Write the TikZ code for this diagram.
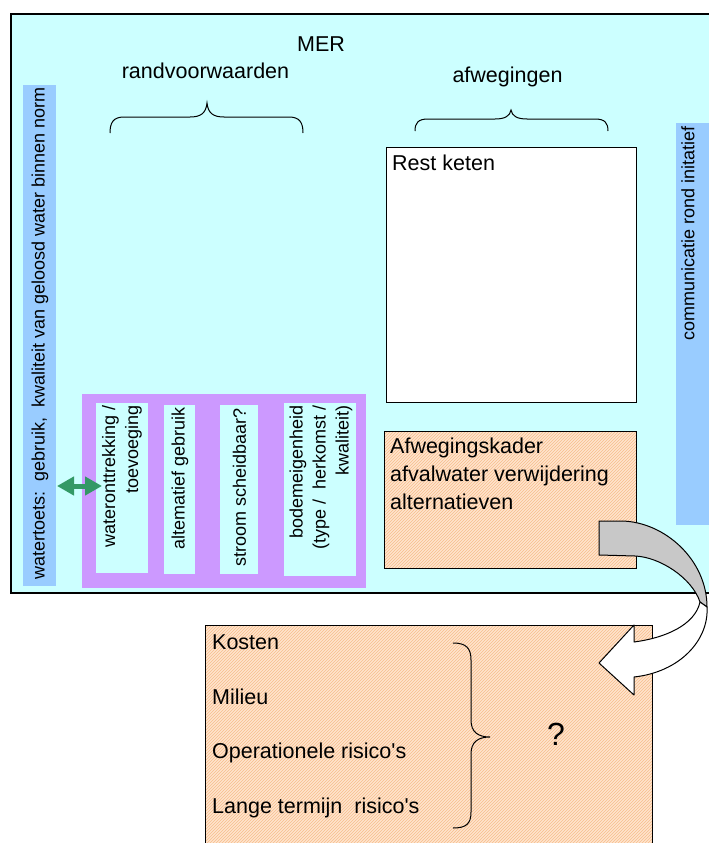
\documentclass[tikz,border=0pt]{standalone}
\usepackage{fontspec}
\setmainfont{Liberation Sans}
\usetikzlibrary{patterns,arrows.meta}
\definecolor{bgcyan}{HTML}{CCFFFF}
\definecolor{barblue}{HTML}{99CCFF}
\definecolor{lilac}{HTML}{CC99FF}
\definecolor{peach}{RGB}{255,228,205}
\definecolor{peachline}{RGB}{246,190,140}
\definecolor{arrowgreen}{HTML}{339966}
\definecolor{arrowgray}{HTML}{C8C8C8}
\tikzset{
  box/.style={rectangle, inner sep=0pt, outer sep=0pt, anchor=north west},
  hatch/.style={preaction={fill=peach}, pattern=north east lines, pattern color=peachline, draw=black, line width=1pt},
  txt/.style={inner sep=0pt, font=\fontsize{21.5}{28}\selectfont},
  vtxt/.style={rotate=90, anchor=east, inner sep=0pt, font=\fontsize{18}{23}\selectfont},
  bracepath/.style={draw=black, line width=1pt},
}
\begin{document}
\begin{tikzpicture}[x=1pt,y=-1pt]
\useasboundingbox (0,0) rectangle (709,843);
\clip (0,0) rectangle (709,843);
% outer MER frame
\node[box, draw=black, line width=1.2pt, fill=bgcyan, minimum width=740pt, minimum height=579pt] (mer) at (11,14) {};
% side bars
\node[box, fill=barblue, minimum width=33pt, minimum height=501pt] (toets) at (23,85) {};
\node[box, fill=barblue, minimum width=45pt, minimum height=402pt] (comm) at (676,123) {};
\node[vtxt] (toetstxt) at (40,87) {watertoets:\ \ gebruik,\ \ kwaliteit van geloosd water binnen norm};
\node[vtxt] (commtxt) at (688,126) {communicatie rond initatief};
% titles
\node[txt, anchor=base] (mertitle) at (321,52) {MER};
\node[txt, anchor=base] (randtitle) at (205.5,78) {randvoorwaarden};
\node[txt, anchor=base] (afwtitle) at (507.5,82) {afwegingen};
% braces
\draw[bracepath] (110,133) .. controls (110,123) and (113,117) .. (124,117) -- (190,117)
  .. controls (201,117) and (206,113) .. (207,103) .. controls (208,113) and (213,117) .. (224,117)
  -- (289,117) .. controls (300,117) and (303,123) .. (303,133);
\draw[bracepath] (415,131) .. controls (415,123) and (418,119) .. (428,119) -- (495,119)
  .. controls (505,119) and (510,116) .. (511,110) .. controls (512,116) and (517,119) .. (527,119)
  -- (595,119) .. controls (605,119) and (608,123) .. (608,131);
% Rest keten
\node[box, draw=black, line width=1pt, fill=white, minimum width=250pt, minimum height=255pt] (rest) at (386,147) {};
\node[txt, anchor=base west] (resttxt) at (392,170) {Rest keten};
% Afwegingskader
\node[box, hatch, minimum width=252pt, minimum height=137pt] (kader) at (384,431) {};
\node[txt, anchor=north west, align=left] (kadertxt) at (390,437.5) {Afwegingskader\\afvalwater verwijdering\\alternatieven};
% purple group
\node[box, fill=lilac, minimum width=284pt, minimum height=194pt] (group) at (82,394) {};
\node[box, fill=bgcyan, minimum width=52pt, minimum height=170pt] (b1) at (96,403) {};
\node[box, fill=bgcyan, minimum width=31pt, minimum height=169pt] (b2) at (164,405) {};
\node[box, fill=bgcyan, minimum width=38pt, minimum height=169pt] (b3) at (220,405) {};
\node[box, fill=bgcyan, minimum width=72pt, minimum height=173pt] (b4) at (284,403) {};
\node[vtxt, align=right] (t1) at (122,405) {wateronttrekking /\\toevoeging};
\node[vtxt] (t2) at (180,407) {altematief gebruik};
\node[vtxt] (t3) at (239.5,408) {stroom scheidbaar?};
\node[vtxt, align=right] (t4) at (321,405) {bodemeigenheid\\(type /\ \ herkomst /\\kwaliteit)};
% green double arrow
\coordinate (ga) at (57,486);
\coordinate (gb) at (102,486);
\draw[arrowgreen, line width=5pt, {Triangle[width=18pt,length=17pt]}-{Triangle[width=18pt,length=17pt]}] (ga) -- (gb);
% bottom box
\node[box, hatch, minimum width=447pt, minimum height=240pt] (eval) at (205,625) {};
\node[txt, anchor=base west] (kosten) at (212,649) {Kosten};
\node[txt, anchor=base west] (milieu) at (212,704) {Milieu};
\node[txt, anchor=base west] (oper) at (212,758) {Operationele risico\textquotesingle s};
\node[txt, anchor=base west] (lange) at (212,813) {Lange termijn\ \ risico\textquotesingle s};
\draw[bracepath] (453,643) .. controls (466,643) and (471,648) .. (471,660) -- (471,720)
  .. controls (471,732) and (478,737) .. (490,737) .. controls (478,737) and (471,742) .. (471,754)
  -- (471,812) .. controls (471,824) and (466,828) .. (453,828);
\node[inner sep=0pt, font=\fontsize{32}{36}\selectfont] (q) at (556,734) {?};
% curved arrow
\draw[fill=arrowgray, line width=1pt, line join=round] (599,521) -- (622,521)
  .. controls (665,522) and (707,560) .. (707,607) -- (700,602)
  .. controls (692,578) and (660,557) .. (635,556) -- (599,555) -- cycle;
\draw[fill=white, line width=1pt, line join=round] (707,607)
  .. controls (709,640) and (680,672) .. (634,677) -- (634,695) -- (599,663) -- (634,625) -- (634,642)
  .. controls (665,638) and (695,625) .. (700,602) -- cycle;
\end{tikzpicture}
\end{document}
